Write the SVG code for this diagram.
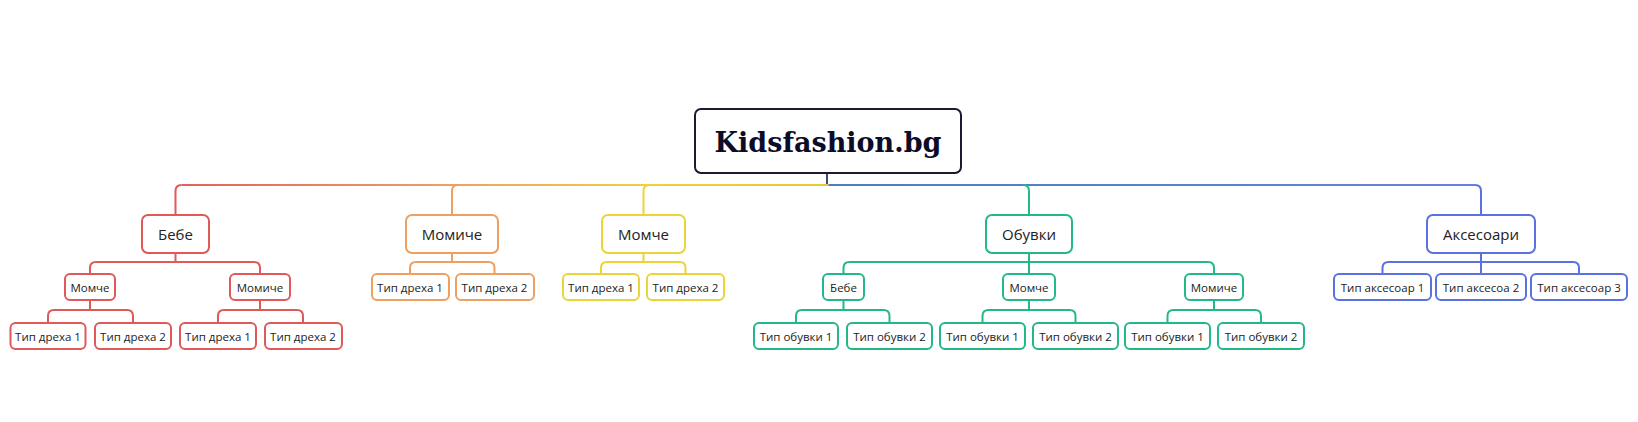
<svg xmlns="http://www.w3.org/2000/svg" width="1638" height="422" viewBox="0 0 1638 422">
<defs>
<linearGradient id="bus" gradientUnits="userSpaceOnUse" x1="175" y1="0" x2="1481" y2="0">
<stop offset="0" stop-color="#e06060"/><stop offset="0.21" stop-color="#eda064"/><stop offset="0.36" stop-color="#efd040"/><stop offset="0.5" stop-color="#e8c838"/><stop offset="0.501" stop-color="#4a80c0"/><stop offset="1" stop-color="#6a80e0"/>
</linearGradient>
<style>
rect{fill:#fff;stroke-width:2}
path{fill:none;stroke-width:2}
text{font-family:"Open Sans","Liberation Sans",sans-serif;fill:#222;text-anchor:middle;dominant-baseline:central}
.r{stroke:#e05858}.o{stroke:#eda060}.y{stroke:#ecd438}.g{stroke:#22b88a}.b{stroke:#5a72e0}
.l1{font-size:15px}.l2{font-size:11.5px}
</style>
</defs>
<rect width="1638" height="422" fill="#fff" stroke="none"/>
<g id="connectors">
<path d="M827 173V185" stroke="#3a4a80"/>
<path d="M181.5 185H1475" stroke="url(#bus)"/>
<path class="r" d="M175.5 215V191Q175.5 185 181.5 185"/>
<path class="o" d="M452 215V191Q452 185 458 185"/>
<path class="y" d="M643.5 215V191Q643.5 185 649.5 185"/>
<path class="g" d="M1029 215V191Q1029 185 1023 185"/>
<path class="b" d="M1481 215V191Q1481 185 1475 185"/>
<path class="r" d="M175.5 253V262M90 274V268Q90 262 96 262H254Q260 262 260 268V274"/>
<path class="r" d="M90 300V310M48 323V316Q48 310 54 310H127Q133 310 133 316V323"/>
<path class="r" d="M260 300V310M218 323V316Q218 310 224 310H297Q303 310 303 316V323"/>
<path class="o" d="M452 253V262M410 274V268Q410 262 416 262H488.5Q494.5 262 494.5 268V274"/>
<path class="y" d="M643.5 253V262M601 274V268Q601 262 607 262H679.5Q685.5 262 685.5 268V274"/>
<path class="g" d="M1029 253V274M843.5 274V268Q843.5 262 849.5 262H1208Q1214 262 1214 268V274"/>
<path class="g" d="M843.5 300V310M796 323V316Q796 310 802 310H883.5Q889.5 310 889.5 316V323"/>
<path class="g" d="M1029 300V310M982.5 323V316Q982.5 310 988.5 310H1069.5Q1075.5 310 1075.5 316V323"/>
<path class="g" d="M1214 300V310M1167.5 323V316Q1167.5 310 1173.5 310H1255Q1261 310 1261 316V323"/>
<path class="b" d="M1481 253V274M1382.5 274V268Q1382.5 262 1388.5 262H1573Q1579 262 1579 268V274"/>
</g>
<g id="root"><rect x="695" y="109" width="266" height="64" rx="6" stroke="#1a1a30"/><text x="828" y="142" style="font-family:'DejaVu Serif','Liberation Serif',serif;font-weight:bold;font-size:27px;fill:#0c0c28">Kidsfashion.bg</text></g>
<g id="bebe"><rect class="r" x="142" y="215" width="67" height="38" rx="6"/><text class="l1" x="175.5" y="234">Бебе</text></g>
<g id="momiche"><rect class="o" x="406" y="215" width="92" height="38" rx="6"/><text class="l1" x="452" y="234">Момиче</text></g>
<g id="momche"><rect class="y" x="602" y="215" width="83" height="38" rx="6"/><text class="l1" x="643.5" y="234">Момче</text></g>
<g id="obuvki"><rect class="g" x="986" y="215" width="86" height="38" rx="6"/><text class="l1" x="1029" y="234">Обувки</text></g>
<g id="aksesoari"><rect class="b" x="1427" y="215" width="108" height="38" rx="6"/><text class="l1" x="1481" y="234">Аксесоари</text></g>
<g id="bebe-momche"><rect class="r" x="65" y="274" width="50" height="26" rx="5"/><text class="l2" x="90" y="287">Момче</text></g>
<g id="bebe-momiche"><rect class="r" x="230" y="274" width="60" height="26" rx="5"/><text class="l2" x="260" y="287">Момиче</text></g>
<g id="r1"><rect class="r" x="10.5" y="323" width="75" height="26" rx="5"/><text class="l2" x="48" y="336">Тип дреха 1</text></g>
<g id="r2"><rect class="r" x="95" y="323" width="76" height="26" rx="5"/><text class="l2" x="133" y="336">Тип дреха 2</text></g>
<g id="r3"><rect class="r" x="180" y="323" width="76" height="26" rx="5"/><text class="l2" x="218" y="336">Тип дреха 1</text></g>
<g id="r4"><rect class="r" x="265" y="323" width="77" height="26" rx="5"/><text class="l2" x="303" y="336">Тип дреха 2</text></g>
<g id="o1"><rect class="o" x="372" y="274" width="77" height="26" rx="5"/><text class="l2" x="410" y="287">Тип дреха 1</text></g>
<g id="o2"><rect class="o" x="456" y="274" width="78" height="26" rx="5"/><text class="l2" x="494.5" y="287">Тип дреха 2</text></g>
<g id="y1"><rect class="y" x="563" y="274" width="76" height="26" rx="5"/><text class="l2" x="601" y="287">Тип дреха 1</text></g>
<g id="y2"><rect class="y" x="647" y="274" width="77" height="26" rx="5"/><text class="l2" x="685.5" y="287">Тип дреха 2</text></g>
<g id="ob-bebe"><rect class="g" x="823" y="274" width="41" height="26" rx="5"/><text class="l2" x="843.5" y="287">Бебе</text></g>
<g id="ob-momche"><rect class="g" x="1003" y="274" width="52" height="26" rx="5"/><text class="l2" x="1029" y="287">Момче</text></g>
<g id="ob-momiche"><rect class="g" x="1185" y="274" width="58" height="26" rx="5"/><text class="l2" x="1214" y="287">Момиче</text></g>
<g id="g1"><rect class="g" x="754" y="323" width="84" height="26" rx="5"/><text class="l2" x="796" y="336">Тип обувки 1</text></g>
<g id="g2"><rect class="g" x="847" y="323" width="85" height="26" rx="5"/><text class="l2" x="889.5" y="336">Тип обувки 2</text></g>
<g id="g3"><rect class="g" x="940" y="323" width="85" height="26" rx="5"/><text class="l2" x="982.5" y="336">Тип обувки 1</text></g>
<g id="g4"><rect class="g" x="1033" y="323" width="85" height="26" rx="5"/><text class="l2" x="1075.5" y="336">Тип обувки 2</text></g>
<g id="g5"><rect class="g" x="1125" y="323" width="85" height="26" rx="5"/><text class="l2" x="1167.5" y="336">Тип обувки 1</text></g>
<g id="g6"><rect class="g" x="1218" y="323" width="86" height="26" rx="5"/><text class="l2" x="1261" y="336">Тип обувки 2</text></g>
<g id="b1"><rect class="b" x="1334" y="274" width="97" height="26" rx="5"/><text class="l2" x="1382.5" y="287">Тип аксесоар 1</text></g>
<g id="b2"><rect class="b" x="1436" y="274" width="90" height="26" rx="5"/><text class="l2" x="1481" y="287">Тип аксесоа 2</text></g>
<g id="b3"><rect class="b" x="1531" y="274" width="96" height="26" rx="5"/><text class="l2" x="1579" y="287">Тип аксесоар 3</text></g>
</svg>
